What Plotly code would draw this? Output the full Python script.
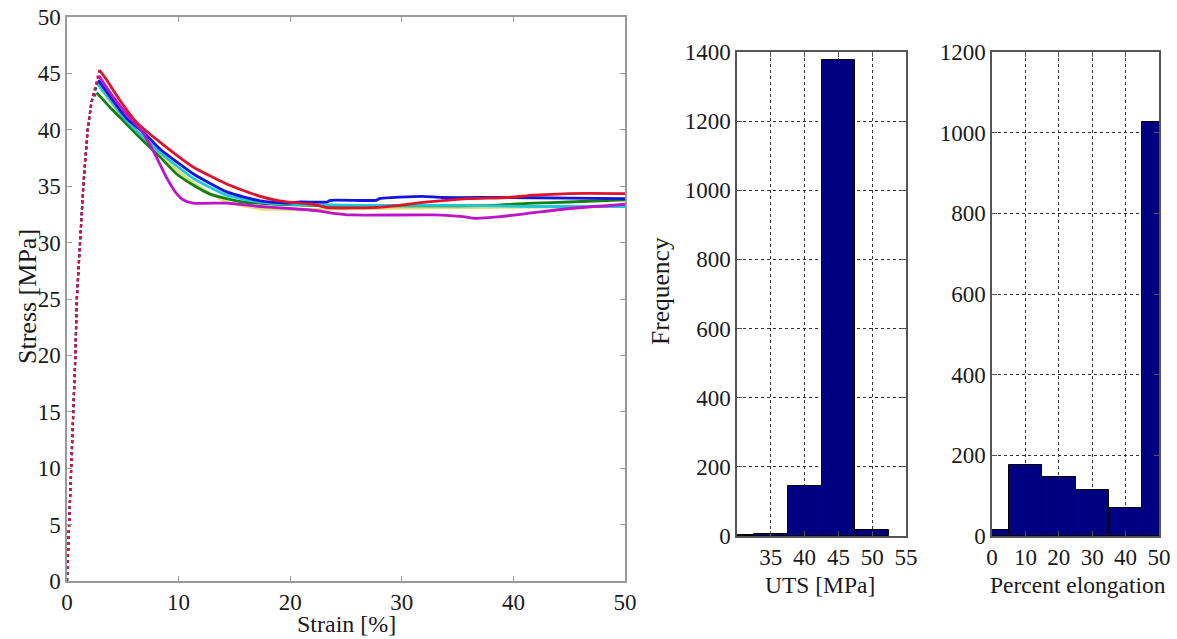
import plotly.graph_objects as go

W, H = 1177, 639

# ---- stress-strain data (strain in %, stress in MPa) ----
rise_strain = [0, 0.2, 0.4, 0.6, 0.75, 0.88, 1.2, 1.46, 1.85, 2.2]
rise_stress = [0, 5, 10, 15, 20, 25, 30, 35, 40, 42.5]

red_strain = [2.9, 3.5, 4.75, 6.2, 8.33, 11.3, 14.3, 17.3, 19.7, 22.0, 23.3, 27.4, 29.8, 31.3, 33.4, 36.0, 39.6, 41.8, 45.0, 50.0]
red_stress = [45.3, 44.5, 42.6, 40.7, 38.9, 36.7, 35.2, 34.1, 33.6, 33.4, 33.1, 33.1, 33.3, 33.5, 33.7, 33.9, 34.0, 34.2, 34.35, 34.35]

magenta_strain = [2.85, 4.15, 5.35, 6.84, 8.0, 8.9, 9.7, 10.4, 11.3, 14.3, 17.3, 20.3, 22.7, 23.9, 25.4, 32.8, 35.5, 36.6, 38.8, 41.8, 44.8, 50.0]
magenta_stress = [44.8, 42.9, 41.4, 39.7, 37.6, 35.8, 34.5, 33.8, 33.5, 33.5, 33.2, 33.0, 32.8, 32.6, 32.45, 32.45, 32.3, 32.15, 32.3, 32.65, 33.0, 33.4]

blue_strain = [2.8, 5.35, 6.84, 8.33, 11.3, 14.3, 17.3, 19.7, 20.9, 23.3, 23.6, 27.7, 28.0, 31.8, 33.6, 38.8, 45.0, 50.0]
blue_stress = [44.4, 41.0, 39.8, 38.3, 36.1, 34.5, 33.7, 33.5, 33.6, 33.6, 33.75, 33.75, 33.9, 34.1, 34.0, 34.0, 33.95, 33.9]

cyan_strain = [2.75, 5.35, 8.33, 11.3, 14.3, 17.3, 20.3, 27.0, 35.0, 42.0, 50.0]
cyan_stress = [44.1, 40.8, 38.0, 35.7, 34.2, 33.6, 33.4, 33.3, 33.3, 33.2, 33.2]

green_strain = [2.66, 3.85, 5.35, 6.84, 8.33, 9.8, 11.3, 12.8, 14.3, 15.8, 18.8, 21.8, 30.0, 38.0, 41.8, 45.0, 50.0]
green_stress = [43.3, 42.0, 40.5, 39.0, 37.6, 36.1, 35.1, 34.3, 33.9, 33.6, 33.4, 33.3, 33.25, 33.3, 33.5, 33.6, 33.8]

yellow_strain = [2.75, 5.35, 8.33, 11.3, 14.3, 17.3, 20.3, 25.0, 35.0, 50.0]
yellow_stress = [44.0, 40.6, 37.7, 35.3, 33.6, 33.0, 32.95, 33.0, 33.1, 33.2]

specimens = [
    ("yellow", yellow_strain, yellow_stress, "rgb(222,222,120)"),
    ("green", green_strain, green_stress, "rgb(20,128,20)"),
    ("cyan", cyan_strain, cyan_stress, "rgb(30,200,220)"),
    ("blue", blue_strain, blue_stress, "rgb(20,20,220)"),
    ("magenta", magenta_strain, magenta_stress, "rgb(190,20,200)"),
    ("red", red_strain, red_stress, "rgb(220,20,45)"),
]

# ---- histogram data ----
uts_centers = [30, 35, 40, 45, 50]
uts_counts = [4, 5, 145, 1378, 18]
uts_bin_width = 5

elong_centers = [0, 10, 20, 30, 40, 50]
elong_counts = [15, 176, 147, 114, 69, 1027]
elong_bin_width = 10

FONT = "Liberation Serif, Times New Roman, serif"
TXT = "#1a1a1a"

fig = go.Figure()

for name, s, t, col in specimens:
    # elastic rise drawn as closely spaced points
    fig.add_trace(go.Scatter(
        x=rise_strain + [s[0]], y=rise_stress + [t[0]],
        mode="lines", line=dict(color=col, width=2.2, dash="dot"),
        xaxis="x", yaxis="y", showlegend=False, hoverinfo="skip"))
    fig.add_trace(go.Scatter(
        x=s, y=t, mode="lines", line=dict(color=col, width=2.8, shape="spline", smoothing=0.5),
        xaxis="x", yaxis="y", showlegend=False, name=name))

bar_style = dict(marker=dict(color="#000080", line=dict(color="#000000", width=1)), showlegend=False)
fig.add_trace(go.Bar(x=uts_centers, y=uts_counts, width=[uts_bin_width] * len(uts_centers),
                     xaxis="x2", yaxis="y2", **bar_style))
fig.add_trace(go.Bar(x=elong_centers, y=elong_counts, width=[elong_bin_width] * len(elong_centers),
                     xaxis="x3", yaxis="y3", **bar_style))


def px_x(p):
    return p / W


def px_y(p):
    return (H - p) / H


common_tick = dict(tickfont=dict(family=FONT, size=23, color=TXT), ticks="inside",
                   showline=True, mirror="ticks", zeroline=False, automargin=False)

left_ax = dict(linecolor="#999999", tickcolor="#999999", ticklen=5, linewidth=1.5, showgrid=False, **common_tick)
hist_ax = dict(linecolor="#555555", tickcolor="#555555", ticklen=5, linewidth=1.5, showgrid=True,
               gridcolor="#333333", griddash="dot", gridwidth=1, **common_tick)

fig.update_layout(
    width=W, height=H,
    margin=dict(l=0, r=0, t=0, b=0, autoexpand=False),
    paper_bgcolor="white", plot_bgcolor="white",
    bargap=0,
    xaxis=dict(domain=[px_x(67), px_x(625)], range=[0, 50], tickvals=[0, 10, 20, 30, 40, 50],
               anchor="y", **left_ax),
    yaxis=dict(domain=[px_y(581), px_y(17)], range=[0, 50], tickvals=list(range(0, 55, 5)),
               anchor="x", **left_ax),
    xaxis2=dict(domain=[px_x(737), px_x(906)], range=[30, 55], tickvals=[35, 40, 45, 50, 55],
                anchor="y2", **hist_ax),
    yaxis2=dict(domain=[px_y(536), px_y(52)], range=[0, 1400], tickvals=list(range(0, 1600, 200)),
                anchor="x2", **hist_ax),
    xaxis3=dict(domain=[px_x(992), px_x(1159)], range=[0, 50], tickvals=[0, 10, 20, 30, 40, 50],
                anchor="y3", **hist_ax),
    yaxis3=dict(domain=[px_y(536), px_y(52)], range=[0, 1200], tickvals=list(range(0, 1400, 200)),
                anchor="x3", **hist_ax),
)

annotations = [
    dict(text="Stress [MPa]", x=px_x(27), y=px_y(297), textangle=-90, size=26),
    dict(text="Strain [%]", x=px_x(346), y=px_y(624), textangle=0, size=24),
    dict(text="Frequency", x=px_x(660), y=px_y(291), textangle=-90, size=25.5),
    dict(text="UTS [MPa]", x=px_x(820), y=px_y(585), textangle=0, size=23.5),
    dict(text="Percent elongation", x=px_x(1078), y=px_y(585), textangle=0, size=23.5),
]
for a in annotations:
    size = a.pop("size")
    fig.add_annotation(xref="paper", yref="paper", showarrow=False, xanchor="center", yanchor="middle",
                       font=dict(family=FONT, size=size, color=TXT), **a)

fig.write_html("out.html")
